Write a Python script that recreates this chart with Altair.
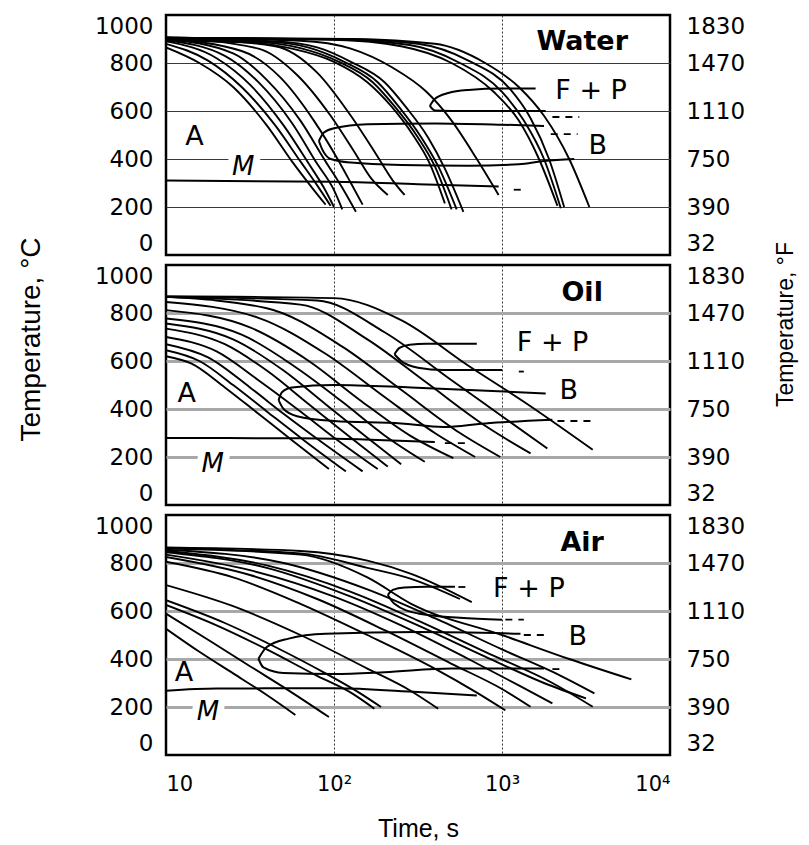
import altair as alt
import pandas as pd

# ---------------- axis values ----------------
TIME_DOMAIN = [10, 10000]
TIME_TICKS = [10, 100, 1000, 10000]
TEMP_DOMAIN = [0, 1000]
TEMP_TICKS = [0, 200, 400, 600, 800, 1000]
F_DOMAIN = [32, 1832]
F_TICKS = [32, 390, 750, 1110, 1470, 1830]

# ---------------- WATER ----------------
# cooling curves: (times in s, temperatures in degC)
water_curves = [
    ([10, 15.8, 25.1, 39.8, 56.2, 74.1, 89.1], [865, 800, 700, 540, 390, 280, 210]),
    ([10, 17.8, 28.2, 44.7, 63.1, 79.4, 95.5], [880, 810, 700, 540, 390, 290, 205]),
    ([10, 20, 31.6, 50.1, 70.8, 87.1, 100], [890, 820, 710, 540, 380, 280, 200]),
    ([10, 22.4, 35.5, 56.2, 79.4, 100, 112], [895, 830, 720, 550, 380, 270, 190]),
    ([10, 25.1, 39.8, 63.1, 89.1, 112, 135], [900, 840, 730, 560, 390, 280, 180]),
    ([10, 28.2, 47.9, 75.9, 105, 126, 148], [900, 850, 740, 560, 400, 300, 210]),
    ([10, 35.5, 60.3, 95.5, 132, 166, 209], [905, 860, 750, 580, 430, 320, 250]),
    ([10, 44.7, 79.4, 126, 178, 224, 263], [905, 870, 760, 580, 420, 310, 250]),
    ([10, 31.6, 56.2, 100, 158, 219, 295, 372, 457], [893, 885, 860, 805, 720, 620, 500, 380, 215]),
    ([10, 35.5, 63.1, 107, 170, 229, 316, 398, 501], [896, 887, 862, 805, 720, 620, 490, 370, 190]),
    ([10, 39.8, 70.8, 115, 182, 245, 331, 417, 537], [898, 889, 864, 805, 720, 615, 490, 370, 190]),
    ([10, 44.7, 79.4, 126, 200, 269, 363, 457, 589], [900, 890, 865, 805, 720, 615, 490, 360, 180]),
    ([10, 63.1, 126, 224, 355, 501, 708, 955], [905, 893, 860, 780, 680, 560, 400, 250]),
    ([10, 100, 251, 501, 891, 1259, 1660, 2138], [905, 897, 870, 800, 680, 560, 400, 205]),
    ([10, 100, 282, 562, 1000, 1349, 1778, 2239], [905, 898, 875, 800, 680, 560, 400, 195]),
    ([10, 112, 316, 631, 1122, 1479, 1905, 2344], [905, 900, 880, 810, 690, 570, 400, 200]),
    ([10, 126, 398, 794, 1259, 1778, 2512, 3311], [905, 900, 880, 800, 700, 580, 400, 200]),
]
# transformation boundaries (F+P start upper/lower, bainite upper/lower, Ms)
water_bounds = [
    ([372, 398, 479, 631, 1000, 1585], [621, 650, 675, 688, 694, 694]),
    ([372, 398, 501, 1820], [621, 602, 600, 600]),
    ([81.3, 87.1, 100, 158, 398, 1000, 1778], [475, 510, 528, 545, 548, 543, 538]),
    ([81.3, 85.1, 95.5, 126, 251, 631, 1259, 1778, 2692], [475, 440, 400, 385, 375, 372, 378, 392, 400]),
    ([10, 100, 316, 955], [310, 305, 295, 285]),
]
water_dashes = [
    ([1995, 2884], [575, 575]),
    ([1950, 2818], [504, 504]),
    ([1175, 1349], [272, 272]),
]
water_name = ("Water", 3000, 887)
water_labels = [("F + P", 3390, 683), ("B", 3715, 454), ("A", 14.8, 492)]
water_m = ("M", 28.8, 367)

# ---------------- OIL ----------------
oil_curves = [
    ([10, 14.1, 22.4, 35.5, 56.2, 93.3], [620, 590, 490, 380, 270, 150]),
    ([10, 15.8, 25.1, 39.8, 66.1, 117.5], [645, 600, 500, 390, 270, 140]),
    ([10, 17.8, 31.6, 50.1, 85.1, 148], [670, 615, 490, 380, 260, 140]),
    ([10, 20, 35.5, 63.1, 105, 182], [700, 640, 520, 390, 270, 150]),
    ([10, 22.4, 39.8, 70.8, 126, 209], [735, 670, 560, 420, 280, 160]),
    ([10, 25.1, 50.1, 89.1, 158, 251], [756, 690, 560, 420, 280, 170]),
    ([10, 28.2, 60.3, 112, 200, 347], [777, 710, 570, 430, 290, 180]),
    ([10, 31.6, 70.8, 141, 282, 513], [812, 740, 600, 440, 290, 195]),
    ([10, 35.5, 89.1, 200, 398, 692], [846, 780, 630, 450, 300, 200]),
    ([10, 39.8, 112, 251, 562, 977], [867, 820, 660, 480, 300, 200]),
    ([10, 63.1, 158, 355, 794, 1479], [867, 835, 690, 510, 330, 215]),
    ([10, 79.4, 200, 501, 1000, 1862], [867, 852, 720, 520, 370, 235]),
    ([10, 100, 251, 631, 1349, 3467], [870, 862, 770, 580, 430, 230]),
]
oil_bounds = [
    ([229, 245.5, 282, 355, 708], [628, 655, 668, 672, 672]),
    ([229, 251, 316, 447, 1000], [628, 600, 572, 562, 562]),
    ([46.8, 49, 56.2, 100, 288, 1820], [437, 470, 490, 500, 490, 465]),
    ([46.8, 50.1, 60.3, 100, 251, 447, 794, 1995], [437, 400, 370, 350, 340, 325, 340, 355]),
    ([10, 63.1, 200, 398], [279, 278, 270, 262]),
]
oil_dashes = [
    ([457, 646], [258, 258]),
    ([1259, 1349], [556, 556]),
    ([2138, 3388], [350, 350]),
]
oil_name = ("Oil", 3000, 883)
oil_labels = [("F + P", 2000, 676), ("B", 2500, 475), ("A", 13.3, 462)]
oil_m = ("M", 19, 171)

# ---------------- AIR ----------------
air_curves = [
    ([10, 15.8, 25.1, 39.8, 58.9], [526, 430, 340, 250, 167]),
    ([10, 17.8, 31.6, 56.2, 93.3], [589, 480, 370, 260, 158]),
    ([10, 20, 39.8, 79.4, 126, 174], [625, 540, 440, 330, 260, 193]),
    ([10, 22.4, 44.7, 89.1, 141, 190.5], [645, 550, 450, 340, 260, 200]),
    ([10, 25.1, 63.1, 158, 282, 417], [708, 620, 500, 360, 270, 193]),
    ([10, 25.1, 63.1, 158, 398, 708, 1047], [805, 740, 630, 500, 360, 260, 186]),
    ([10, 31.6, 79.4, 200, 501, 1000, 1479], [825, 750, 650, 520, 380, 275, 201]),
    ([10, 31.6, 100, 251, 631, 1259, 1995], [835, 770, 660, 540, 400, 290, 215]),
    ([10, 39.8, 126, 316, 794, 1778, 3162], [845, 780, 660, 540, 410, 300, 236]),
    ([10, 39.8, 126, 316, 794, 1995, 3467], [850, 790, 680, 560, 430, 300, 201]),
    ([10, 50.1, 158, 398, 1000, 2239, 3548], [855, 800, 690, 570, 440, 330, 257]),
    ([10, 63.1, 158, 288, 1000, 2512, 5888], [860, 835, 740, 630, 500, 400, 315]),
    ([10, 63.1, 158, 288, 562], [862, 840, 780, 734, 650]),
    ([10, 63.1, 158, 288, 661], [865, 850, 810, 755, 637]),
]
air_bounds = [
    ([209, 224, 263, 355, 525], [667, 688, 698, 701, 701]),
    ([209, 229, 316, 562, 1000], [667, 630, 590, 572, 564]),
    ([35.5, 39.8, 53.7, 89.1, 316, 1288], [401, 450, 485, 505, 512, 505]),
    ([35.5, 38, 50.1, 100, 200, 501, 1778], [401, 365, 342, 338, 345, 360, 360]),
    ([10, 20, 100, 316, 708], [268, 277, 278, 262, 248]),
]
air_dashes = [
    ([550, 617], [700, 700]),
    ([1047, 1349], [564, 564]),
    ([1349, 1778], [500, 500]),
    ([1995, 2291], [358, 358]),
]
air_name = ("Air", 3000, 883)
air_labels = [("F + P", 1445, 692), ("B", 2820, 492), ("A", 12.8, 342)]
air_m = ("M", 17.8, 179)

# ---------------- helpers ----------------
LABEL_FONT = "DejaVu Sans"
TITLE_FONT = "Liberation Sans"


def lines_df(curves, prefix):
    rows = []
    for i, (ts, temps) in enumerate(curves):
        for j, (t, T) in enumerate(zip(ts, temps)):
            rows.append({"curve": f"{prefix}{i}", "time": t, "temp": T, "order": j})
    return pd.DataFrame(rows)


def text_df(items):
    return pd.DataFrame([{"label": s, "time": t, "temp": T} for s, t, T in items])


def panel(name, curves, bounds, dashes, labels, mlab, grid_color, grid_width,
          bottom=False, middle=False):
    xscale = alt.Scale(type="log", domain=TIME_DOMAIN)
    yscale = alt.Scale(domain=TEMP_DOMAIN)
    if bottom:
        xaxis = alt.Axis(
            values=TIME_TICKS, grid=True, gridDash=[2, 2], gridColor="#333333",
            gridWidth=1,
            gridOpacity=alt.condition("datum.value == 10 || datum.value == 10000",
                                      alt.value(0), alt.value(1)),
            ticks=False, domain=False, labelFlush=True,
            labelExpr="datum.value == 10 ? '10' : datum.value == 100 ? '10²' : "
                      "datum.value == 1000 ? '10³' : '10⁴'",
            labelFont=LABEL_FONT, labelFontSize=21, labelColor="black",
            labelPadding=18,
            title="Time, s", titleFont=TITLE_FONT, titleFontSize=25,
            titleFontWeight="normal", titleColor="black", titlePadding=22,
        )
    else:
        xaxis = alt.Axis(
            values=TIME_TICKS, grid=True, gridDash=[2, 2], gridColor="#333333",
            gridWidth=1,
            gridOpacity=alt.condition("datum.value == 10 || datum.value == 10000",
                                      alt.value(0), alt.value(1)),
            ticks=False, domain=False, labels=False, title=None,
        )
    yaxis_kw = dict(
        values=TEMP_TICKS, format="d", grid=True, gridColor=grid_color,
        gridWidth=grid_width,
        gridOpacity=alt.condition("datum.value == 0 || datum.value == 1000",
                                  alt.value(0), alt.value(1)),
        ticks=False, domain=False, labelFlush=True,
        labelFont=LABEL_FONT, labelFontSize=23, labelColor="black", labelPadding=13,
    )
    if middle:
        yaxis = alt.Axis(title="Temperature, °C", titleFont=TITLE_FONT,
                         titleFontSize=28, titleFontWeight="normal",
                         titleColor="black", titlePadding=49, titleY=74,
                         **yaxis_kw)
    else:
        yaxis = alt.Axis(title=None, **yaxis_kw)

    X = alt.X("time:Q", scale=xscale, axis=xaxis)
    Y = alt.Y("temp:Q", scale=yscale, axis=yaxis)

    c_lines = alt.Chart(lines_df(curves, "c")).mark_line(
        color="black", strokeWidth=1.9, interpolate="monotone", clip=True
    ).encode(x=X, y=Y, detail="curve:N", order="order:Q")

    b_lines = alt.Chart(lines_df(bounds, "b")).mark_line(
        color="black", strokeWidth=2, interpolate="monotone", clip=True
    ).encode(x=X, y=Y, detail="curve:N", order="order:Q")

    d_lines = alt.Chart(lines_df(dashes, "d")).mark_line(
        color="black", strokeWidth=1.8, strokeDash=[7, 6]
    ).encode(x=X, y=Y, detail="curve:N", order="order:Q")

    lab_df = text_df(labels)
    t_labels = alt.Chart(lab_df).mark_text(
        font=LABEL_FONT, fontSize=27, color="black"
    ).encode(x=X, y=Y, text="label:N")

    m_df = text_df([mlab])
    m_halo = alt.Chart(m_df).mark_text(
        font=LABEL_FONT, fontSize=26, fontStyle="italic", color="white",
        stroke="white", strokeWidth=14
    ).encode(x=X, y=Y, text="label:N")
    m_text = alt.Chart(m_df).mark_text(
        font=LABEL_FONT, fontSize=26, fontStyle="italic", color="black"
    ).encode(x=X, y=Y, text="label:N")

    n_df = text_df([name])
    n_text = alt.Chart(n_df).mark_text(
        font=LABEL_FONT, fontSize=27, fontWeight="bold", color="black"
    ).encode(x=X, y=Y, text="label:N")

    inner = alt.layer(m_halo, c_lines, b_lines, d_lines, t_labels, m_text, n_text)

    f_kw = dict(
        orient="right", values=F_TICKS, format="d", grid=False, ticks=False,
        domain=False, labelFlush=True, labelFont=LABEL_FONT, labelFontSize=23,
        labelColor="black", labelPadding=16,
    )
    if middle:
        faxis = alt.Axis(title="Temperature, °F", titleFont=TITLE_FONT,
                         titleFontSize=23, titleFontWeight="normal",
                         titleColor="black", titleAngle=270, titleBaseline="top",
                         titlePadding=30, titleY=59, **f_kw)
    else:
        faxis = alt.Axis(title=None, **f_kw)
    f_layer = alt.Chart(pd.DataFrame({"F": F_TICKS})).mark_point(opacity=0).encode(
        y=alt.Y("F:Q", scale=alt.Scale(domain=F_DOMAIN), axis=faxis)
    )

    return alt.layer(inner, f_layer).resolve_scale(y="independent").properties(
        width=504, height=240
    )


water = panel(water_name, water_curves, water_bounds, water_dashes, water_labels,
              water_m, "#3a3a3a", 1)
oil = panel(oil_name, oil_curves, oil_bounds, oil_dashes, oil_labels, oil_m,
            "#a8a8a8", 3, middle=True)
air = panel(air_name, air_curves, air_bounds, air_dashes, air_labels, air_m,
            "#a8a8a8", 3, bottom=True)

chart = alt.vconcat(water, oil, air, spacing=10, bounds="flush").properties(
    padding={"left": 8, "top": 3, "right": 0, "bottom": 0},
    background="white",
).configure_view(stroke="black", strokeWidth=2.5)

chart.save("out.html", embed_options={"renderer": "svg", "actions": False})
